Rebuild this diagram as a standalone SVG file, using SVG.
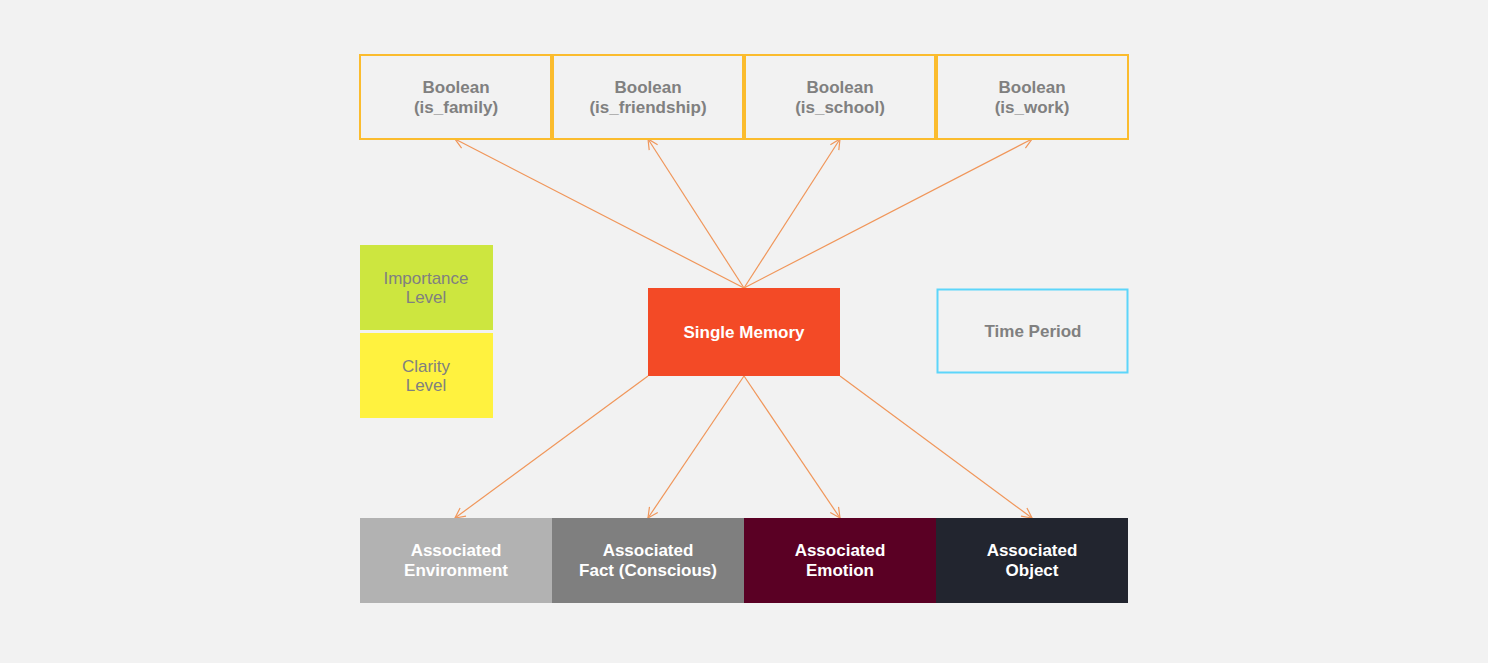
<svg xmlns="http://www.w3.org/2000/svg" width="1488" height="663" viewBox="0 0 1488 663">
<defs>
<marker id="arr" viewBox="0 0 12 12" refX="11" refY="6" markerWidth="12" markerHeight="12" markerUnits="userSpaceOnUse" orient="auto">
<path d="M1,1 L11,6 L1,11" fill="none" stroke="#F0965A" stroke-width="1.2"/>
</marker>
<style>
.t{font-family:"Liberation Sans",Arial,sans-serif;font-size:17px;text-anchor:middle}
.b{font-weight:bold}
.g{fill:#808080}
.w{fill:#FFFFFF}
.bool{fill:#F2F2F2;stroke:#FBBC2E;stroke-width:2}
.c{stroke:#F0965A;stroke-width:1.2;fill:none;marker-end:url(#arr)}
</style>
</defs>
<rect width="1488" height="663" fill="#F2F2F2"/>
<g id="connectors">
<line class="c" x1="744" y1="288" x2="455" y2="139"/>
<line class="c" x1="744" y1="288" x2="648" y2="139"/>
<line class="c" x1="744" y1="288" x2="840" y2="139"/>
<line class="c" x1="744" y1="288" x2="1032" y2="139"/>
<line class="c" x1="648" y1="376" x2="455" y2="518"/>
<line class="c" x1="744" y1="376" x2="648" y2="518"/>
<line class="c" x1="744" y1="376" x2="840" y2="518"/>
<line class="c" x1="840" y1="376" x2="1032" y2="518"/>
</g>
<g id="is_family"><rect class="bool" x="360" y="55" width="191" height="84"/><text class="t b g" x="456" y="93">Boolean</text><text class="t b g" x="456" y="113">(is_family)</text></g>
<g id="is_friendship"><rect class="bool" x="553" y="55" width="190" height="84"/><text class="t b g" x="648" y="93">Boolean</text><text class="t b g" x="648" y="113">(is_friendship)</text></g>
<g id="is_school"><rect class="bool" x="745" y="55" width="190" height="84"/><text class="t b g" x="840" y="93">Boolean</text><text class="t b g" x="840" y="113">(is_school)</text></g>
<g id="is_work"><rect class="bool" x="937" y="55" width="191" height="84"/><text class="t b g" x="1032" y="93">Boolean</text><text class="t b g" x="1032" y="113">(is_work)</text></g>
<g id="importance"><rect x="360" y="245" width="133" height="85" fill="#CDE63F"/><text class="t g" x="426" y="284">Importance</text><text class="t g" x="426" y="303">Level</text></g>
<g id="clarity"><rect x="360" y="333" width="133" height="85" fill="#FFF23F"/><text class="t g" x="426" y="372">Clarity</text><text class="t g" x="426" y="391">Level</text></g>
<g id="single_memory"><rect x="648" y="288" width="192" height="88" fill="#F34A26"/><text class="t b w" x="744" y="338">Single Memory</text></g>
<g id="time_period"><rect x="937.5" y="289.5" width="190" height="83" fill="#F2F2F2" stroke="#5DD5FA" stroke-width="2"/><text class="t b g" x="1033" y="337">Time Period</text></g>
<g id="environment"><rect x="360" y="518" width="192" height="85" fill="#B2B2B2"/><text class="t b w" x="456" y="556">Associated</text><text class="t b w" x="456" y="576">Environment</text></g>
<g id="fact"><rect x="552" y="518" width="192" height="85" fill="#7F7F7F"/><text class="t b w" x="648" y="556">Associated</text><text class="t b w" x="648" y="576">Fact (Conscious)</text></g>
<g id="emotion"><rect x="744" y="518" width="192" height="85" fill="#5A0024"/><text class="t b w" x="840" y="556">Associated</text><text class="t b w" x="840" y="576">Emotion</text></g>
<g id="object"><rect x="936" y="518" width="192" height="85" fill="#22252F"/><text class="t b w" x="1032" y="556">Associated</text><text class="t b w" x="1032" y="576">Object</text></g>
</svg>
